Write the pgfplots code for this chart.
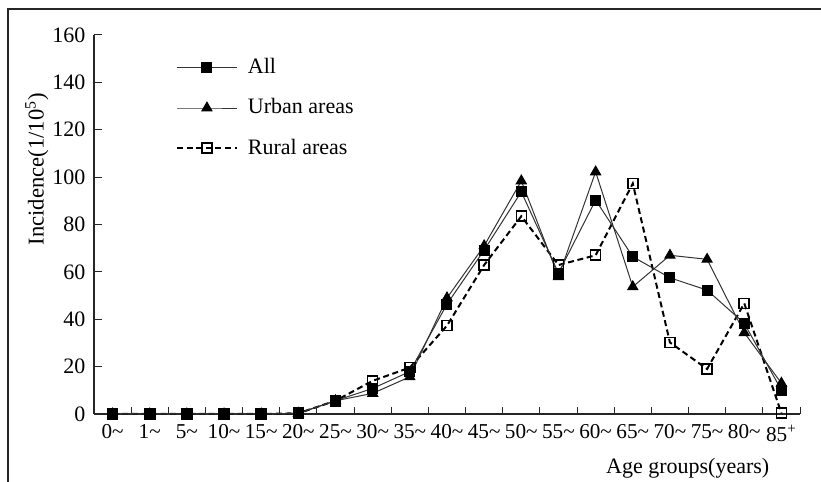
\documentclass[border=0pt]{standalone}
\usepackage{fontspec}
\setmainfont{Liberation Serif}
\usepackage{pgfplots}
\pgfplotsset{compat=1.18}
\begin{document}
\fontsize{11}{13}\selectfont
\begin{tikzpicture}
\path[use as bounding box] (-47pt,-34pt) rectangle (363.5pt,207pt);
\draw[line width=0.9pt, black!85] (-43pt,-34pt) -- (-43pt,202.5pt) -- (363.5pt,202.5pt);
\begin{axis}[
  scale only axis, width=353pt, height=189.5pt,
  at={(0,0)}, anchor=south west,
  xmin=-0.5, xmax=18.5, ymin=0, ymax=160,
  clip=false,
  axis x line=bottom, axis y line=left,
  axis line style={-, line width=0.6pt, black!85},
  tick align=inside,
  xtick={0,...,18},
  xticklabels={0\textasciitilde,1\textasciitilde,5\textasciitilde,10\textasciitilde,15\textasciitilde,20\textasciitilde,25\textasciitilde,30\textasciitilde,35\textasciitilde,40\textasciitilde,45\textasciitilde,50\textasciitilde,55\textasciitilde,60\textasciitilde,65\textasciitilde,70\textasciitilde,75\textasciitilde,80\textasciitilde,85\textsuperscript{+}},
  major x tick style={draw=none},
  minor xtick={0.5,1.5,...,18.5},
  minor tick length=3.5pt,
  major tick length=4pt,
  every tick/.style={black!85, line width=0.5pt},
  ytick={0,20,...,160},
  /pgf/number format/assume math mode=true,
  tick label style={font=\fontsize{11}{13}\selectfont},
  xticklabel style={yshift=-1.5pt, font=\fontsize{10.6}{13}\selectfont},
  yticklabel style={xshift=-0.5pt},
  ylabel={Incidence(1/10\textsuperscript{5})},
  ylabel style={at={(axis description cs:-0.081,0.646)}, anchor=center, rotate=0, font=\fontsize{11.3}{13}\selectfont},
  xlabel={Age groups(years)},
  xlabel style={at={(axis description cs:0.841,-0.142)}, anchor=center, font=\fontsize{11}{13}\selectfont},
  legend style={draw=none, fill=none, at={(axis description cs:0.107,0.96)}, anchor=north west,
    font=\fontsize{11}{13}\selectfont, row sep=6.8pt, column sep=3pt, cells={anchor=west}},
  legend image code/.code={\draw[mark repeat=2,mark phase=2] plot coordinates {(0pt,0pt) (15pt,0pt) (30pt,0pt)};},
  reverse legend,
]
\addplot[black, dash pattern=on 3pt off 1.8pt, line width=1pt, mark=square, mark size=2.5pt,
  mark options={solid, fill=white, line width=0.8pt}]
  coordinates {(0,0) (1,0) (2,0) (3,0) (4,0) (5,0.3) (6,5.6) (7,14) (8,19.6) (9,37.3) (10,62.9) (11,83.5) (12,62.9) (13,67) (14,97.3) (15,30.2) (16,19) (17,46.7) (18,0.3)};
\addlegendentry{Rural areas}
\addplot[black!80, line width=0.5pt, mark=triangle*, mark size=2.9pt, mark options={black}]
  coordinates {(0,0) (1,0) (2,0) (3,0) (4,0) (5,0.3) (6,5.6) (7,8.7) (8,15.7) (9,49) (10,71) (11,98.4) (12,58) (13,102.2) (14,53.7) (15,67) (16,65.3) (17,34.3) (18,13)};
\addlegendentry{Urban areas}
\addplot[black!80, line width=0.5pt, mark=square*, mark size=2.5pt, mark options={black}]
  coordinates {(0,0) (1,0) (2,0) (3,0) (4,0) (5,0.3) (6,5.6) (7,10.8) (8,17.9) (9,46.4) (10,69.2) (11,93.8) (12,59.5) (13,90.3) (14,66.4) (15,57.5) (16,52.3) (17,38.3) (18,10.1)};
\addlegendentry{All}
\end{axis}
\end{tikzpicture}
\end{document}
